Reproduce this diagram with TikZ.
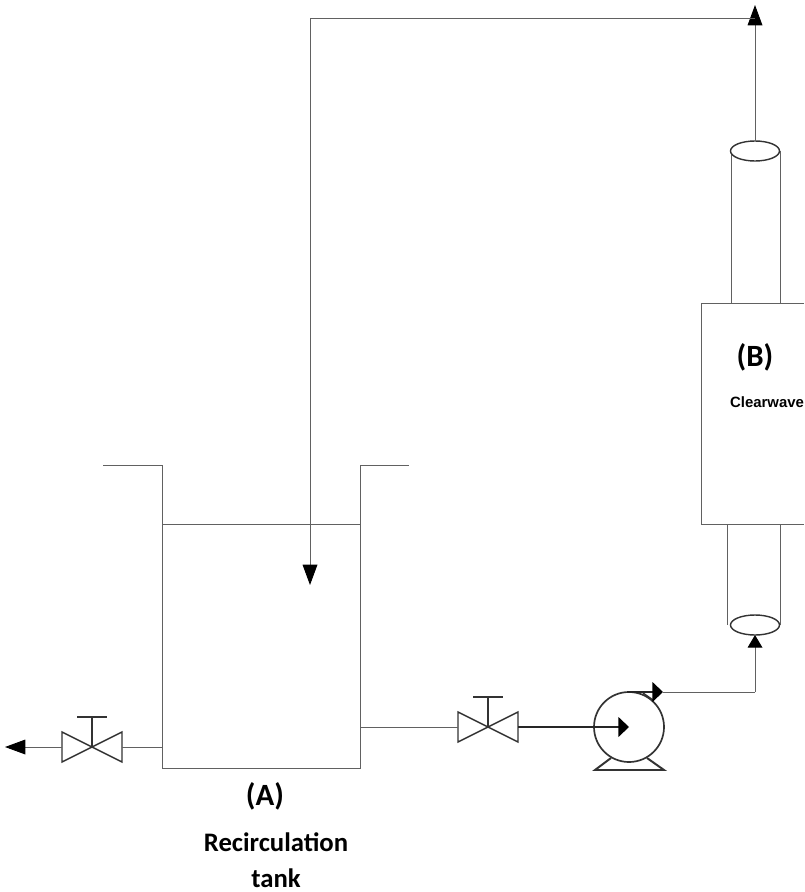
\documentclass[tikz,border=0pt]{standalone}
\usepackage{fontspec}
\newfontfamily\labelfont{Carlito}
\newfontfamily\boxfont{Liberation Sans}
\usetikzlibrary{arrows.meta,calc}
\definecolor{pipegray}{gray}{0.38}
\tikzset{
	pipe/.style={draw=pipegray,line width=.65pt},
	flow/.style={pipe,-{Triangle[width=10.5pt,length=14.5pt,color=black]}},
	stubflow/.style={draw=black!85,line width=1pt,-{Triangle[width=14pt,length=7.5pt,color=black]}},
	capflow/.style={pipe,-{Triangle[width=10.5pt,length=9pt,color=black]}},
	symbolline/.style={draw=black!80,line width=1pt},
	biglabel/.style={font=\labelfont\bfseries\fontsize{19}{22}\selectfont},
	letterlabel/.style={font=\labelfont\bfseries\fontsize{22}{24}\selectfont},
	boxlabel/.style={font=\boxfont\bfseries\fontsize{10.6}{12}\selectfont}
}
\begin{document}
\begin{tikzpicture}[x=.025cm,y=-.025cm]
		\useasboundingbox (0,0) rectangle (804,892);
		% tank
		\coordinate (tankTL) at (162,465);
		\coordinate (tankBL) at (162,768);
		\coordinate (tankBR) at (360,768);
		\coordinate (tankTR) at (360,465);
		\coordinate (levelL) at (162,524);
		\coordinate (levelR) at (360,524);
		\draw[pipe] (103,465) -- (tankTL) -- (tankBL) -- (tankBR) -- (tankTR) -- (409,465);
		\draw[pipe] (levelL) -- (levelR);
		% column
		\coordinate (topcap) at (755,151);
		\coordinate (botcap) at (755,625);
		\coordinate (boxTL) at (701,303);
		\coordinate (boxBL) at (701,524);
		\draw[pipe] (804,303) -- (boxTL) -- (boxBL) -- (804,524);
		\draw[pipe] (731,151) -- (731,303);
		\draw[pipe] (780,151) -- (780,303);
		\draw[pipe] (727,524) -- (727,625);
		\draw[pipe] (780,524) -- (780,625);
		\draw[symbolline,fill=white] (topcap) ellipse (24.5 and 10);
		\draw[symbolline,fill=white] (botcap) ellipse (24.5 and 10);
		% valves
		\foreach \n/\cx/\cy in {drain/92/747,feed/488/727}{
			\coordinate (\n) at (\cx,\cy);
			\coordinate (\n L) at (\cx-30,\cy);
			\coordinate (\n R) at (\cx+30,\cy);
			\draw[symbolline] (\n) -- (\cx-30,\cy-15) -- (\cx-30,\cy+15) -- (\cx+30,\cy-15) -- (\cx+30,\cy+15) -- cycle;
			\draw[symbolline] (\n) -- (\cx,\cy-30);
			\draw[symbolline] (\cx-15,\cy-30) -- (\cx+15,\cy-30);
		}
		% pump
		\coordinate (pump) at (629,727);
		\draw[symbolline,line width=1.2pt] (pump) circle (35);
		\draw[symbolline,line width=1.4pt] (611,758) -- (595,770) -- (664,770) -- (647,758);
		\draw[symbolline] (643,693) -- (653,700);
		% pipes
		\coordinate (pumpout) at (663,692);
		\coordinate (corner) at (755,692);
		\coordinate (outlet) at (755,5);
		\coordinate (tapout) at (755,18);
		\coordinate (tapin) at (310,18);
		\coordinate (dropend) at (310,585);
		\coordinate (drainend) at (5,747);
		\draw[flow] (drainL) -- (drainend);
		\draw[pipe] (drainR) -- (162,747);
		\draw[pipe] (360,727) -- (feedL);
		\draw[stubflow] (feedR) -- (pump);
		\draw[stubflow] (627,692) -- (pumpout);
		\draw[pipe] (pumpout) -- (corner);
		\draw[capflow] (corner) -- (755,635);
		\draw[flow] (755,141) -- (outlet);
		\draw[pipe] (tapout) -- (tapin);
		\draw[flow] (tapin) -- (dropend);
		% labels
		\node[letterlabel] (labelA) at (265,796) {(A)};
		\node[biglabel,align=center,text width=180pt] (labelTank) at (276,860) {Recirculation\\[3.2pt]tank};
		\node[letterlabel] (labelB) at (755,357) {(B)};
		\node[boxlabel] (labelWave) at (767,402) {Clearwave};
		\end{tikzpicture}
\end{document}
